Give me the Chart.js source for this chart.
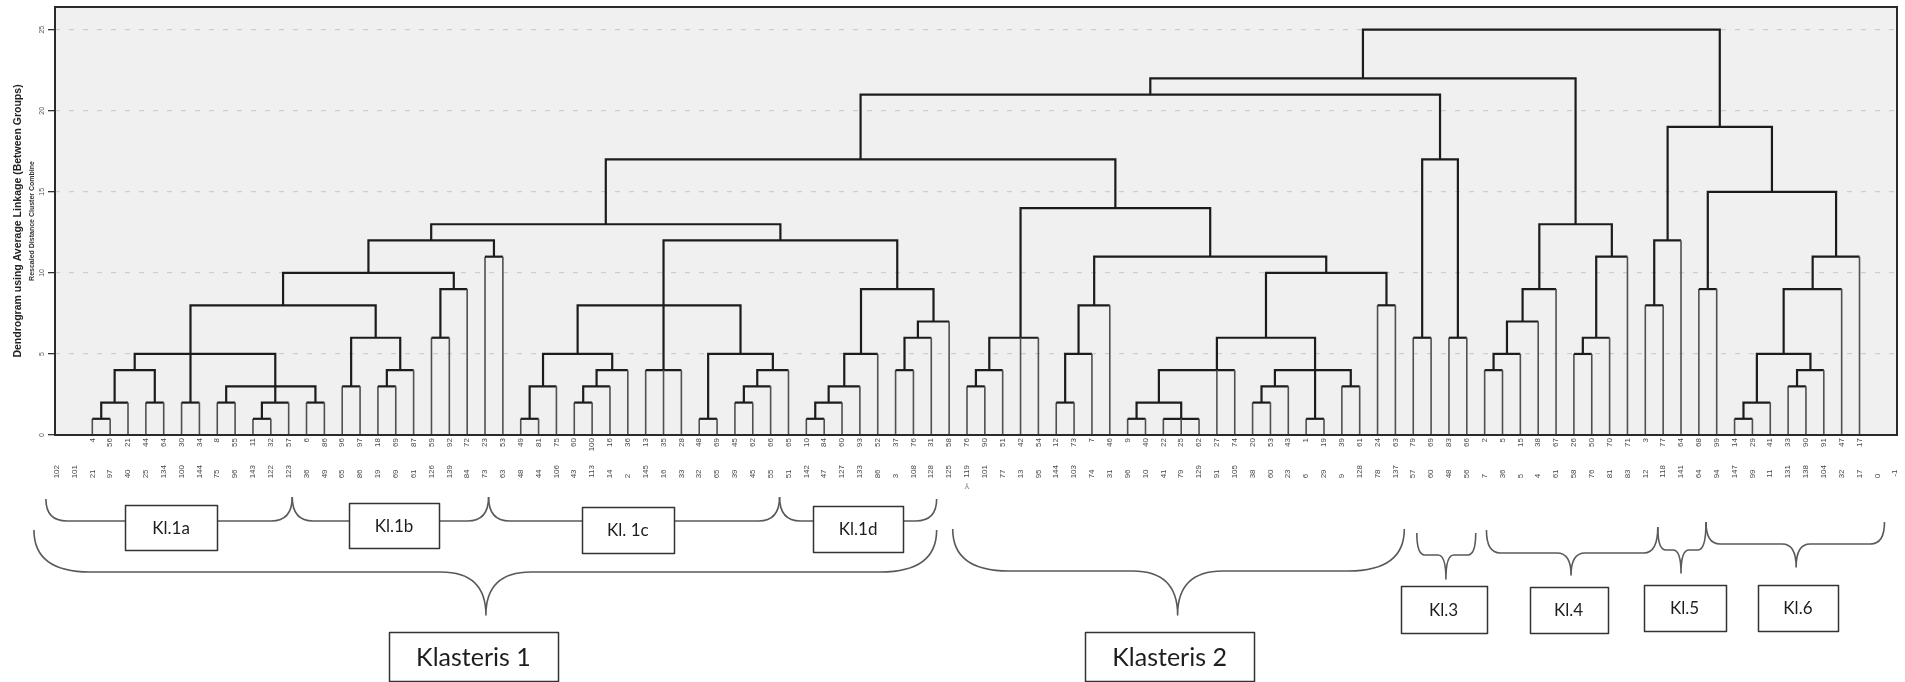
<!DOCTYPE html>
<html><head><meta charset="utf-8">
<script src="https://cdn.jsdelivr.net/npm/chart.js@4.4.1/dist/chart.umd.min.js"></script>
<style>html,body{margin:0;padding:0;background:#fff;overflow:hidden}#wrap{width:1905px;height:682px}</style>
</head><body><div id="wrap"><canvas id="c" width="1905" height="682"></canvas></div>
<script>
// ---- data ----
const bottomLabels = ['102','101','21','97','40','25','134','100','144','75','96','143','122','123','36','49','65','86','19','69','61','126','139','84','73','63','48','44','106','43','113','14','2','145','16','33','32','65','39','45','55','51','142','47','127','133','86','3','108','128','125','119','101','77','13','95','144','103','74','31','96','10','41','79','129','91','105','38','60','23','6','29','9','128','78','137','57','60','48','56','7','36','5','4','61','58','76','81','83','12','118','141','64','94','147','99','11','131','138','104','32','17','0','-1'];
const leafLabels = ['','','4','56','21','44','64','30','34','8','55','11','32','57','6','86','96','97','18','69','87','59','92','72','23','53','49','81','75','60','100','16','36','13','35','28','48','69','45','62','66','65','10','84','60','93','52','37','76','31','58','76','90','51','42','54','12','73','7','46','9','40','22','25','62','27','74','20','53','43','1','19','39','61','24','63','79','69','83','66','2','5','15','38','67','26','50','70','71','3','77','64','68','99','14','29','41','33','90','91','47','17','',''];
// merge table (hclust style): negative = leaf at that position, positive = earlier merge (1-based)
const mergeChildren = [
 [-2,-3],[1,-4],[-5,-6],[2,3],[-7,-8],[-9,-10],[-11,-12],[7,-13],[-14,-15],[6,8,9],
 [4,5,10],[-16,-17],[-18,-19],[13,-20],[12,14],[11,15],[-21,-22],[17,-23],[16,18],[-24,-25],
 [19,20],[-26,-27],[22,-28],[-29,-30],[24,-31],[25,-32],[23,26],[-33,-34,-35],[-36,-37],[-38,-39],
 [30,-40],[31,-41],[29,32],[27,28,33],[-42,-43],[35,-44],[36,-45],[37,-46],[-47,-48],[39,-49],
 [40,-50],[38,41],[34,42],[21,43],[-51,-52],[45,-53],[46,-54,-55],[-56,-57],[48,-58],[49,-59],
 [-60,-61],[-62,-63,-64],[51,52],[53,-65,-66],[-67,-68],[55,-69],[-70,-71],[-72,-73],[56,57,58],[54,59],
 [-74,-75],[60,61],[50,62],[47,63],[44,64],[-76,-77],[-78,-79],[66,67],[65,68],[-80,-81],
 [70,-82],[71,-83],[72,-84],[-85,-86],[74,-87],[75,-88],[73,76],[69,77],[-89,-90],[79,-91],
 [-92,-93],[-94,-95],[82,-96],[-97,-98],[84,-99],[83,85],[86,-100],[87,-101],[81,88],[80,89],
 [78,90]
];
const mergeHeights = [
 1,2,2,4,2,2,1,2,2,3,
 5,3,3,4,6,8,6,9,10,11,
 12,1,3,2,3,4,5,4,1,2,
 3,4,5,8,1,2,3,5,4,6,
 7,9,12,13,3,4,6,2,5,8,
 1,1,2,4,2,3,1,3,4,6,
 8,10,11,14,17,6,6,17,21,4,
 5,7,9,5,6,11,13,22,8,12,
 9,1,2,3,4,5,9,11,15,19,
 25
];
const yTicks = [0,5,10,15,20,25];

// ---- build dendrogram links from the merge table ----
const nodeX = [], nodeH = [];
function childInfo(c){ return c < 0 ? {x:-c, h:0} : {x:nodeX[c-1], h:nodeH[c-1]}; }
const datasets = mergeChildren.map((kids, i) => {
  const H = mergeHeights[i];
  const info = kids.map(childInfo).sort((a,b) => a.x - b.x);
  const first = info[0], last = info[info.length-1];
  const pts = [{x:first.x,y:first.h},{x:first.x,y:H},{x:last.x,y:H},{x:last.x,y:last.h}];
  info.slice(1,-1).forEach(m => { pts.push({x:m.x,y:null},{x:m.x,y:m.h},{x:m.x,y:H}); });
  nodeX[i] = info.length === 3 ? info[1].x : (first.x + last.x) / 2;
  nodeH[i] = H;
  const stem = c => (c.p0.parsed.y === 0 || c.p1.parsed.y === 0);
  return {
    data: pts, borderColor:'#1c1c1c', borderWidth:2.2, pointRadius:0, fill:false, tension:0,
    spanGaps:false, xAxisID:'x', yAxisID:'y',
    segment:{ borderColor: c => stem(c) ? '#505050' : undefined, borderWidth: c => stem(c) ? 1.6 : undefined }
  };
});

// ---- annotation layout (braces & boxes below the axis) ----
const braces = [
  {from:-0.6, to:13.2, yTop:499, yTop2:497, yBar:521, r:21},
  {from:13.2, to:24.2, yTop:497, yBar:521, r:21},
  {from:24.2, to:40.5, yTop:497, yBar:521, r:21},
  {from:40.5, to:49.3, yTop:497, yTop2:499, yBar:521, r:21},
  {from:-1.27, to:49.3, tip:24.05, yTop:530, yBar:572, yTip:615, r:56, r2:45},
  {from:50.2, to:75.5, tip:62.8, yTop:529, yBar:571, yTip:615, r:56, r2:45},
  {from:76.2, to:79.5, tip:77.83, yTop:533, yBar:555, yTip:579, r:8, r2:8},
  {from:80.1, to:89.7, tip:84.84, yTop:530, yTop2:527, yBar:553, yTip:575, r:14, r2:14},
  {from:89.7, to:92.4, tip:91.0, yTop:527, yTop2:522, yBar:550, yTip:573, r:8, r2:8},
  {from:92.4, to:102.4, tip:97.45, yTop:522, yBar:544, yTip:567, r:14, r2:14}
];
const boxes = [
  {text:'Kl.1a', at:6.41, w:92, y:505, h:45, size:17},
  {text:'Kl.1b', at:18.9, w:90, y:503, h:45, size:17},
  {text:'Kl. 1c', at:32.0, w:92, y:507, h:46, size:17},
  {text:'Kl.1d', at:44.9, w:90, y:506, h:46, size:17},
  {text:'Klasteris 1', at:23.35, w:169, y:632, h:49, size:25},
  {text:'Klasteris 2', at:62.35, w:169, y:632, h:49, size:25},
  {text:'Kl.3', at:77.7, w:86, y:586, h:47, size:17},
  {text:'Kl.4', at:84.7, w:78, y:587, h:46, size:17},
  {text:'Kl.5', at:91.2, w:82, y:585, h:46, size:17},
  {text:'Kl.6', at:97.55, w:80, y:585, h:46, size:17}
];

const plotFrame = {
  id:'plotFrame',
  beforeDraw(chart){
    const {ctx, chartArea:a} = chart;
    ctx.save(); ctx.fillStyle = '#f0f0f0'; ctx.fillRect(a.left, a.top, a.right-a.left, a.bottom-a.top); ctx.restore();
  },
  afterDatasetsDraw(chart){
    const {ctx, chartArea:a} = chart;
    ctx.save(); ctx.strokeStyle = '#2a2a2a'; ctx.lineWidth = 2;
    ctx.strokeRect(a.left, a.top, a.right-a.left, a.bottom-a.top); ctx.restore();
  }
};
const klasteri = {
  id:'klasteri',
  afterDraw(chart){
    const ctx = chart.ctx, xs = chart.scales.x;
    const px = v => xs.getPixelForValue(v);
    ctx.save();
    ctx.strokeStyle = '#595959'; ctx.lineWidth = 1.6; ctx.lineJoin = 'round';
    braces.forEach(b => {
      const x1 = px(b.from), x2 = px(b.to);
      ctx.beginPath();
      ctx.moveTo(x1, b.yTop);
      ctx.quadraticCurveTo(x1, b.yBar, x1 + b.r, b.yBar);
      if (b.yTip) {
        const xm = px(b.tip);
        ctx.lineTo(xm - b.r2, b.yBar);
        ctx.quadraticCurveTo(xm, b.yBar, xm, b.yTip);
        ctx.quadraticCurveTo(xm, b.yBar, xm + b.r2, b.yBar);
      }
      ctx.lineTo(x2 - b.r, b.yBar);
      ctx.quadraticCurveTo(x2, b.yBar, x2, b.yTop2 != null ? b.yTop2 : b.yTop);
      ctx.stroke();
    });
    boxes.forEach(bx => {
      const cx = px(bx.at), x0 = Math.round(cx - bx.w/2) + 0.5, y0 = bx.y + 0.5;
      ctx.fillStyle = '#ffffff'; ctx.fillRect(x0, y0, bx.w, bx.h);
      ctx.strokeStyle = '#333333'; ctx.lineWidth = 1.5; ctx.strokeRect(x0, y0, bx.w, bx.h);
      ctx.fillStyle = '#1e1e1e'; ctx.font = bx.size + 'px Lato';
      ctx.textAlign = 'center'; ctx.textBaseline = 'middle';
      ctx.fillText(bx.text, cx, bx.y + bx.h/2 + 1);
    });
    ctx.fillStyle = '#777'; ctx.font = '8px "DejaVu Sans"'; ctx.textAlign = 'center'; ctx.textBaseline = 'middle';
    ctx.fillText('\u2144', px(51), 487);
    ctx.restore();
  }
};

const tickFont = {family:'Liberation Sans', size:8};
const padLabel = s => s + '\u2007'.repeat(Math.max(0, 3 - s.length));

new Chart(document.getElementById('c'), {
  type:'line',
  data:{ datasets },
  plugins:[plotFrame, klasteri],
  options:{
    responsive:false, animation:false, events:[],
    layout:{ padding:{top:7, right:8, left:0, bottom:0} },
    plugins:{ legend:{display:false}, tooltip:{enabled:false} },
    scales:{
      x:{ type:'linear', axis:'x', position:'bottom', weight:0, min:-0.09, max:103.1,
          grid:{display:false, drawTicks:false, tickLength:0}, border:{display:false},
          afterBuildTicks: s => { s.ticks = leafLabels.map((_, i) => ({value:i})); },
          afterFit: s => { s.height = 24; s.paddingLeft = 0; s.paddingRight = 0; },
          ticks:{ autoSkip:false, minRotation:90, maxRotation:90, padding:3, color:'#474747', font:tickFont,
                  callback:(v, i) => leafLabels[i] } },
      xb:{ type:'linear', axis:'x', position:'bottom', weight:1, min:-0.09, max:103.1,
          grid:{display:false, drawTicks:false, tickLength:0}, border:{display:false},
          afterBuildTicks: s => { s.ticks = bottomLabels.map((_, i) => ({value:i})); },
          afterFit: s => { s.height = 223; s.paddingLeft = 0; s.paddingRight = 0; },
          ticks:{ autoSkip:false, minRotation:90, maxRotation:90, padding:6, color:'#474747', font:tickFont,
                  callback:(v, i) => padLabel(bottomLabels[i]) } },
      y:{ type:'linear', axis:'y', position:'left', weight:0, min:0, max:26.4,
          afterBuildTicks: s => { s.ticks = yTicks.map(v => ({value:v})); },
          afterFit: s => { s.width = 18; s.paddingTop = 0; s.paddingBottom = 0; },
          grid:{ color: c => (c.tick && c.tick.value === 0) ? 'rgba(0,0,0,0)' : '#cdcdcd', lineWidth:1.3,
                 drawTicks:true, tickLength:7, tickColor:'#333', tickWidth:1.3 },
          border:{ display:false, dash:[5,9] },
          ticks:{ minRotation:90, maxRotation:90, crossAlign:'center', padding:2, color:'#555',
                  font:{family:'Liberation Sans', size:7} } },
      ySub:{ type:'linear', axis:'y', position:'left', weight:1,
          grid:{display:false, drawTicks:false}, border:{display:false}, ticks:{display:false},
          afterFit: s => { s.width = 11; s.paddingTop = 0; s.paddingBottom = 0; },
          title:{ display:true, text:'Rescaled Distance Cluster Combine', color:'#333',
                  font:{family:'Liberation Sans', size:7, weight:'bold'}, padding:{top:2.3, bottom:0} } },
      yMain:{ type:'linear', axis:'y', position:'left', weight:2,
          grid:{display:false, drawTicks:false}, border:{display:false}, ticks:{display:false},
          afterFit: s => { s.width = 26; s.paddingTop = 0; s.paddingBottom = 0; },
          title:{ display:true, text:'Dendrogram using Average Linkage (Between Groups)', color:'#222',
                  font:{family:'Liberation Sans', size:10.5, weight:'bold'}, padding:{top:12.2, bottom:0} } }
    }
  }
});
</script>
</body></html>
